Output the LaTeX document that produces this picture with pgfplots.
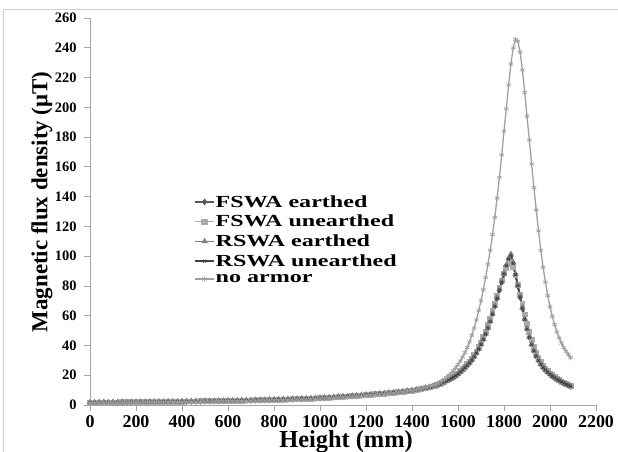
\documentclass[border=0pt]{standalone}
\usepackage{fontspec}
\setmainfont{Liberation Serif}
\usepackage{graphicx}
\usepackage{pgfplots}
\usepackage{pgfplotstable}
\pgfplotsset{compat=1.18}
\pgfplotstableread{
x ru re fe fu na
0 1.6 1.7 1.6 1.5 1.4
20 1.6 1.7 1.6 1.5 1.4
40 1.7 1.7 1.7 1.6 1.5
60 1.7 1.8 1.7 1.6 1.5
80 1.7 1.8 1.7 1.6 1.5
100 1.75 1.8 1.75 1.7 1.55
120 1.8 1.85 1.8 1.7 1.6
140 1.8 1.9 1.8 1.75 1.6
160 1.85 1.9 1.85 1.8 1.65
180 1.9 1.95 1.9 1.8 1.65
200 1.9 2.0 1.9 1.85 1.7
220 1.95 2.0 1.95 1.9 1.7
240 2.0 2.05 2.0 1.9 1.75
260 2.0 2.1 2.0 1.95 1.8
280 2.05 2.1 2.05 2.0 1.8
300 2.1 2.15 2.1 2.0 1.85
320 2.15 2.2 2.15 2.1 1.9
340 2.2 2.25 2.2 2.1 1.95
360 2.2 2.3 2.2 2.15 1.95
380 2.25 2.3 2.25 2.2 2.0
400 2.3 2.35 2.3 2.25 2.05
420 2.35 2.4 2.35 2.3 2.1
440 2.4 2.45 2.4 2.35 2.15
460 2.45 2.5 2.45 2.4 2.2
480 2.5 2.55 2.5 2.45 2.2
500 2.55 2.6 2.55 2.5 2.25
520 2.6 2.65 2.6 2.55 2.3
540 2.65 2.7 2.65 2.6 2.35
560 2.7 2.75 2.7 2.65 2.4
580 2.75 2.8 2.75 2.7 2.45
600 2.8 2.9 2.8 2.75 2.5
620 2.85 2.95 2.85 2.8 2.55
640 2.9 3.0 2.9 2.85 2.6
660 3.0 3.05 3.0 2.9 2.65
680 3.05 3.1 3.05 3.0 2.7
700 3.1 3.2 3.1 3.05 2.8
720 3.2 3.25 3.2 3.1 2.85
740 3.25 3.3 3.25 3.2 2.9
760 3.3 3.4 3.3 3.25 3.0
780 3.4 3.5 3.4 3.3 3.05
800 3.5 3.55 3.5 3.4 3.15
820 3.6 3.65 3.6 3.5 3.2
840 3.7 3.75 3.7 3.6 3.3
860 3.8 3.85 3.8 3.7 3.4
880 3.9 3.95 3.9 3.8 3.5
900 4.0 4.1 4.0 3.9 3.6
920 4.1 4.2 4.1 4.0 3.7
940 4.2 4.3 4.2 4.1 3.8
960 4.35 4.4 4.35 4.25 3.95
980 4.45 4.55 4.45 4.35 4.05
1000 4.6 4.7 4.6 4.5 4.2
1020 4.8 4.85 4.8 4.7 4.4
1040 5.0 5.05 5.0 4.9 4.6
1060 5.2 5.25 5.2 5.1 4.8
1080 5.4 5.45 5.4 5.3 5.0
1100 5.6 5.7 5.6 5.5 5.2
1120 5.8 5.9 5.8 5.7 5.45
1140 6.05 6.1 6.05 5.95 5.7
1160 6.25 6.35 6.25 6.15 5.9
1180 6.5 6.6 6.5 6.4 6.15
1200 6.75 6.85 6.75 6.65 6.4
1220 7.0 7.1 7.0 6.9 6.65
1240 7.25 7.35 7.25 7.15 6.9
1260 7.5 7.6 7.5 7.4 7.15
1280 7.75 7.85 7.75 7.65 7.4
1300 8.0 8.1 8.0 7.9 7.7
1320 8.3 8.4 8.3 8.2 8.0
1340 8.6 8.7 8.6 8.5 8.4
1360 8.9 9.0 8.9 8.8 8.8
1380 9.3 9.4 9.3 9.2 9.2
1400 9.7 9.8 9.7 9.6 9.7
1420 10.2 10.3 10.2 10.1 10.3
1440 10.8 10.9 10.8 10.7 11.0
1460 11.4 11.5 11.4 11.3 11.7
1480 12.0 12.1 12.0 11.9 12.6
1490 12.5 12.6 12.5 12.4 13.0
1500 13.0 13.1 13.0 13.0 13.5
1510 13.5 13.6 13.5 13.5 14.3
1520 14.2 14.3 14.2 14.2 15.2
1530 14.9 15.0 14.9 14.9 16.2
1540 15.6 15.7 15.6 15.7 17.3
1550 16.2 16.3 16.2 16.4 18.5
1560 16.9 17.0 16.9 17.2 19.9
1570 17.7 17.8 17.7 18.0 21.4
1580 18.6 18.7 18.6 19.0 23.1
1590 19.6 19.7 19.6 20.0 25.0
1600 20.8 20.9 20.8 21.2 27.1
1610 22.1 22.2 22.1 22.6 29.5
1620 23.5 23.6 23.5 24.0 32.2
1630 25.0 25.1 25.0 25.6 35.2
1640 26.5 26.7 26.5 27.3 38.6
1650 28.2 28.4 28.2 29.2 42.4
1660 30.1 30.3 30.1 31.2 46.8
1670 32.3 32.5 32.3 33.5 51.7
1680 34.8 35.0 34.8 36.0 57.2
1690 37.6 37.8 37.6 38.9 63.3
1700 40.6 40.9 40.6 42.0 70.0
1710 44.0 44.3 44.0 45.6 77.5
1720 47.6 47.9 47.6 49.4 85.5
1730 51.6 51.9 51.6 53.5 94.5
1740 56.0 56.4 56.0 58.0 104.0
1750 61.0 61.4 61.0 63.0 114.5
1760 66.3 66.7 66.2 68.2 126.0
1770 71.6 72.1 71.5 73.4 139.0
1780 77.2 77.7 77.0 78.6 153.0
1790 82.5 83.1 82.3 83.6 168.0
1800 88.0 88.6 87.7 88.3 184.0
1810 93.5 94.1 93.1 92.3 199.0
1820 98.0 98.7 97.6 95.0 215.0
1830 100.5 101.3 100.1 95.8 229.0
1840 95.0 95.8 94.7 92.5 240.0
1850 87.5 88.2 87.2 87.0 245.5
1860 80.0 80.6 79.8 80.8 244.5
1870 72.5 73.0 72.3 74.3 237.0
1880 65.0 65.5 64.8 67.6 225.0
1890 57.5 58.0 57.4 60.8 210.0
1900 51.0 51.4 50.9 54.5 194.0
1910 45.5 45.8 45.4 48.8 178.0
1920 40.5 40.8 40.4 43.6 162.0
1930 36.3 36.6 36.2 39.0 146.0
1940 32.8 33.0 32.7 35.0 131.0
1950 29.8 30.0 29.7 31.6 117.0
1960 27.3 27.5 27.2 28.7 104.0
1970 25.2 25.4 25.1 26.3 92.5
1980 23.5 23.6 23.4 24.4 82.5
1990 22.0 22.1 21.9 22.7 73.5
2000 20.6 20.7 20.5 21.2 66.0
2010 19.4 19.5 19.3 19.9 59.5
2020 18.3 18.4 18.2 18.7 54.0
2030 17.3 17.4 17.2 17.6 49.0
2040 16.4 16.5 16.3 16.6 45.0
2050 15.5 15.6 15.4 15.7 41.5
2060 14.7 14.8 14.6 14.8 38.5
2070 13.9 14.0 13.8 14.0 36.0
2080 13.2 13.3 13.1 13.3 33.8
2090 12.5 12.6 12.4 12.6 31.8
}\datatable

\definecolor{cFE}{HTML}{595959}
\definecolor{cFU}{HTML}{ABABAB}
\definecolor{cRE}{HTML}{7F7F7F}
\definecolor{cRU}{HTML}{404040}
\definecolor{cNA}{HTML}{A0A0A0}
\definecolor{cAx}{HTML}{A6A6A6}
\newcommand{\legtext}[1]{\scalebox{1.42}[1]{#1}}

\begin{document}
\begin{tikzpicture}[x=1bp,y=1bp]
\useasboundingbox (0,0) rectangle (618,452);
\draw[color=black!18, line width=1.2bp] (3.5,0) -- (3.5,442.5) -- (618,442.5);
\begin{axis}[
  at={(90bp,47bp)}, anchor=south west,
  scale only axis, width=506bp, height=387bp,
  xmin=0, xmax=2200, ymin=0, ymax=260,
  xtick distance=200, ytick distance=20,
  axis lines*=left,
  axis line style={cAx, line width=0.8bp},
  tick style={cAx, line width=0.8bp},
  tick align=outside, major tick length=6bp,
  /pgf/number format/assume math mode=true,
  /pgf/number format/1000 sep={},
  xticklabel style={font=\fontsize{18}{20}\selectfont\bfseries, yshift=-1bp},
  yticklabel style={font=\fontsize{14.5}{16}\selectfont\bfseries, xshift=-4bp},
  every axis x label/.style={at={(rel axis cs:0.506,-0.096)}, anchor=center},
  every axis y label/.style={at={(rel axis cs:-0.095,0.525)}, rotate=90, anchor=center},
  xlabel={Height (mm)},
  ylabel={Magnetic flux density (μT)},
  xlabel style={font=\fontsize{24.5}{28}\selectfont\bfseries},
  ylabel style={font=\fontsize{23}{26}\selectfont\bfseries},
  legend style={at={(rel axis cs:0.206,0.545)}, anchor=north west, draw=none, fill=none,
    font=\fontsize{17}{19}\selectfont\bfseries, row sep=4.5bp, inner sep=0pt,
    nodes={inner sep=1bp}, legend cell align=left},
  legend image post style={xscale=1.1},
  every axis plot/.append style={line width=1.6bp, mark size=2.1bp},
]
\addplot[cFE, mark=diamond*, mark options={fill=cFE}] table[x=x, y=fe] {\datatable};
\addlegendentry{\legtext{FSWA earthed}}
\addplot[cFU, mark=square*, mark options={fill=cFU}] table[x=x, y=fu] {\datatable};
\addlegendentry{\legtext{FSWA unearthed}}
\addplot[cRE, mark=triangle*, mark options={fill=cRE}] table[x=x, y=re] {\datatable};
\addlegendentry{\legtext{RSWA earthed}}
\addplot[cRU, mark=x, mark options={line width=0.8bp}] table[x=x, y=ru] {\datatable};
\addlegendentry{\legtext{RSWA unearthed}}
\addplot[cNA, line width=1.3bp, mark=asterisk, mark options={line width=0.7bp, mark size=2.6bp}] table[x=x, y=na] {\datatable};
\addlegendentry{\legtext{no armor}}
\end{axis}
\end{tikzpicture}
\end{document}
